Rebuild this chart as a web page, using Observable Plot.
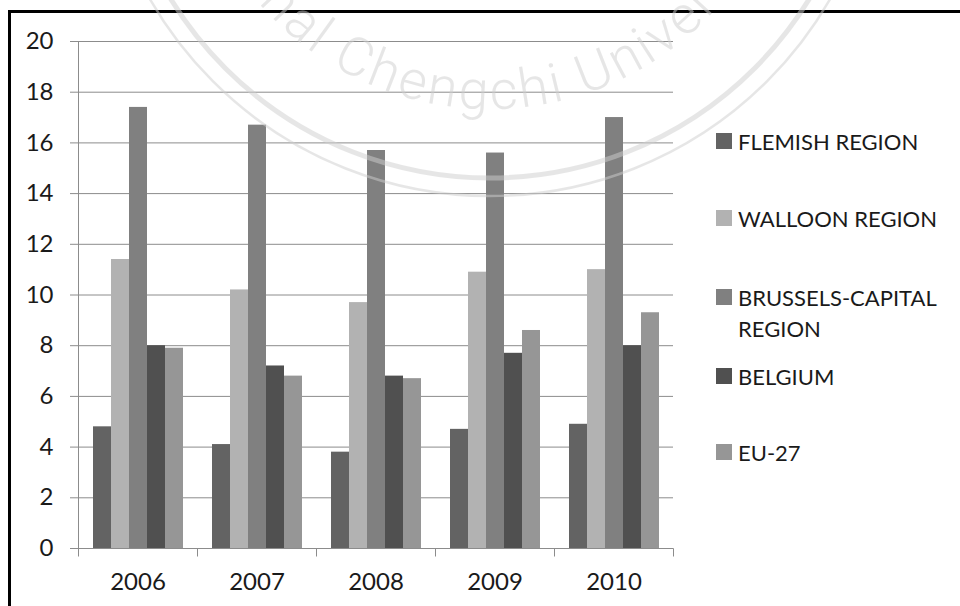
<!DOCTYPE html>
<html>
<head>
<meta charset="utf-8">
<script src="https://cdn.jsdelivr.net/npm/d3@7"></script>
<script src="https://cdn.jsdelivr.net/npm/@observablehq/plot@0.6"></script>
<style>
  html, body { margin: 0; padding: 0; background: #fff; }
  #wrap { position: relative; width: 960px; height: 606px; overflow: hidden; font-family: Lato, "Open Sans", sans-serif; }
  #chart { position: absolute; left: 0; top: 0; }
  #chart svg text { fill: #1a1a1a; }
  #border { position: absolute; left: 8px; top: 10px; width: 1000px; height: 700px; border-left: 3px solid #000; border-top: 3px solid #000; box-sizing: border-box; }
  .item { position: absolute; left: 716px; font-size: 22px; line-height: 31px; color: #1a1a1a; }
  .item .sw { position: absolute; left: 0; top: 7px; width: 16px; height: 16px; }
  .item .lab { position: absolute; left: 22px; top: 0; width: 218px; }
  #wm { position: absolute; left: 0; top: 0; pointer-events: none; }
</style>
</head>
<body>
<div id="wrap">
  <div id="chart"></div>
  <div id="border"></div>
  <div id="legend"></div>
  <svg id="wm" width="960" height="606">
    <g opacity="0.5">
      <circle cx="490" cy="-196" r="374" fill="none" stroke="#cfcfcf" stroke-width="5"></circle>
      <circle cx="490" cy="-196" r="392" fill="none" stroke="#cfcfcf" stroke-width="2.5"></circle>
      <path id="tp" d="M185,-196 A305,305 0 0 0 795,-196" fill="none"></path>
      <text font-family="Roboto, sans-serif" font-size="54" font-weight="300" fill="#cfcfcf" letter-spacing="3">
        <textPath href="#tp" startOffset="47.5%" text-anchor="middle">National Chengchi University</textPath>
      </text>
    </g>
  </svg>
</div>
<script>
const years = ["2006", "2007", "2008", "2009", "2010"];
const series = ["FLEMISH REGION", "WALLOON REGION", "BRUSSELS-CAPITAL REGION", "BELGIUM", "EU-27"];
const flemish  = [4.8, 4.1, 3.8, 4.7, 4.9];
const walloon  = [11.4, 10.2, 9.7, 10.9, 11.0];
const brussels = [17.4, 16.7, 15.7, 15.6, 17.0];
const belgium  = [8.0, 7.2, 6.8, 7.7, 8.0];
const eu27     = [7.9, 6.8, 6.7, 8.6, 9.3];
const colors = ["#636363", "#b2b2b2", "#808080", "#505050", "#969696"];
const yTicks = [0, 2, 4, 6, 8, 10, 12, 14, 16, 18, 20];

const seriesValues = [flemish, walloon, brussels, belgium, eu27];
const data = years.flatMap((yr, i) => series.map((s, j) => ({year: yr, series: s, value: seriesValues[j][i]})));

const gridColor = "#8c8c8c";

const chart = Plot.plot({
  width: 960,
  height: 606,
  marginLeft: 78,
  marginRight: 287,
  marginTop: 41,
  marginBottom: 58,
  style: {fontFamily: "Lato, 'Open Sans', sans-serif", fontSize: "24px", color: gridColor, background: "transparent", overflow: "visible"},
  facet: {data, x: "year"},
  fx: {domain: years, padding: 0, label: null, tickSize: 0, tickPadding: 24, axis: "bottom"},
  x: {domain: series, paddingInner: 0, paddingOuter: 0.75, axis: null},
  y: {domain: [0, 20], ticks: yTicks, tickSize: 8, tickPadding: 17, label: null, tickFormat: d => String(d)},
  color: {domain: series, range: colors},
  marks: [
    Plot.ruleY(yTicks, {stroke: gridColor, strokeWidth: 1}),
    Plot.barY(data, {x: "series", y: "value", fill: "series", inset: 0})
  ]
});
document.getElementById("chart").appendChild(chart);

// axis line and category boundary ticks, from the plot's own scales
const fxS = chart.scale("fx");
const yS = chart.scale("y");
const fxBand = d3.scaleBand().domain(fxS.domain).range(fxS.range).paddingInner(0).paddingOuter(0);
const yScale = yS.apply ? yS.apply : d3.scaleLinear().domain(yS.domain).range(yS.range);
const y0 = Math.round(yScale(0)) + 0.5, yTop = Math.round(yScale(20)) + 0.5;
const edges = years.map(d => fxBand(d)).concat([fxBand(years[years.length - 1]) + fxBand.bandwidth()]);
const svg = d3.select(chart);
const g = svg.append("g").attr("stroke", gridColor).attr("stroke-width", 1);
g.append("line").attr("x1", Math.round(edges[0]) + 0.5).attr("x2", Math.round(edges[0]) + 0.5).attr("y1", yTop).attr("y2", y0);
g.append("line").attr("x1", Math.round(edges[0]) - 8).attr("x2", Math.round(edges[edges.length - 1]) + 0.5).attr("y1", y0).attr("y2", y0);
g.selectAll("line.edge").data(edges).join("line").attr("class", "edge")
  .attr("x1", d => Math.round(d) + 0.5).attr("x2", d => Math.round(d) + 0.5)
  .attr("y1", y0).attr("y2", y0 + 8);

// legend
const legendCenters = [141, 218, 297, 376, 452];
const legend = document.getElementById("legend");
series.forEach((s, i) => {
  const item = document.createElement("div");
  item.className = "item";
  item.style.top = (legendCenters[i] - 15.5) + "px";
  const sw = document.createElement("div");
  sw.className = "sw";
  sw.style.background = colors[i];
  const lab = document.createElement("div");
  lab.className = "lab";
  lab.textContent = s;
  item.appendChild(sw);
  item.appendChild(lab);
  legend.appendChild(item);
});
</script>
</body>
</html>
